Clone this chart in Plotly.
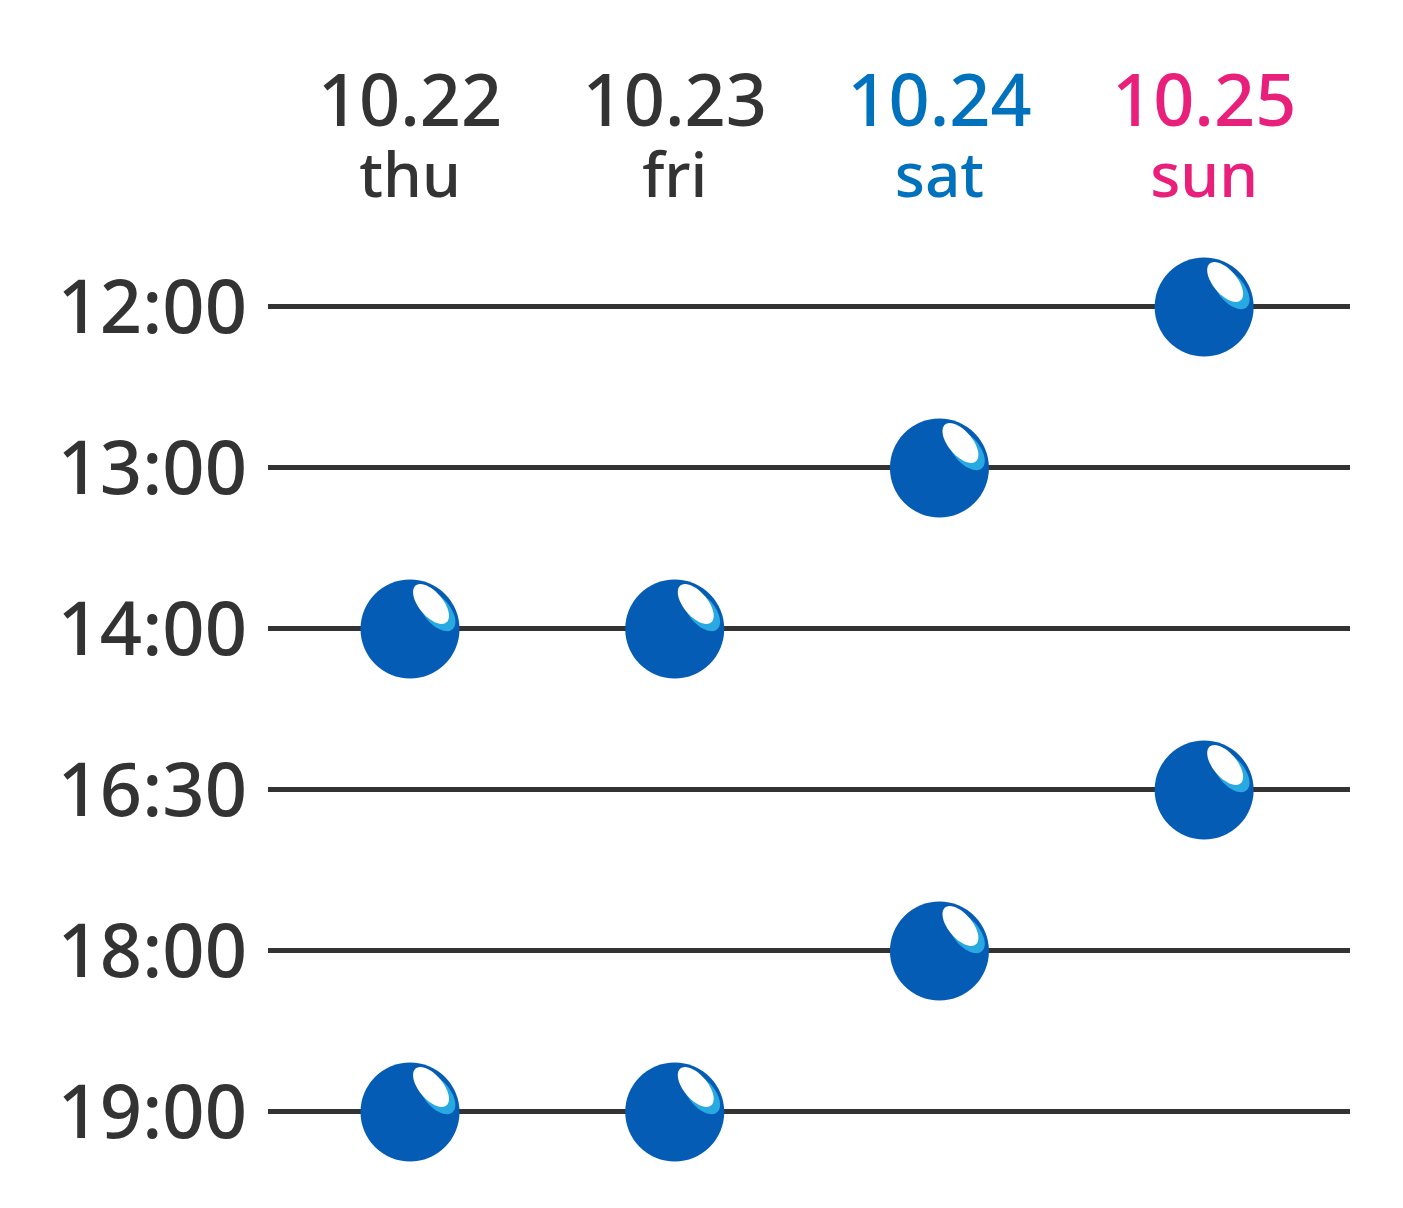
import math
import plotly.graph_objects as go

# ---- data ----
dates = ["10.22", "10.23", "10.24", "10.25"]
days = ["thu", "fri", "sat", "sun"]
times = ["12:00", "13:00", "14:00", "16:30", "18:00", "19:00"]
# sessions: (date, time)
session_dates = ["10.25", "10.24", "10.22", "10.23", "10.25", "10.24", "10.22", "10.23"]
session_times = ["12:00", "13:00", "14:00", "14:00", "16:30", "18:00", "19:00", "19:00"]

# ---- styles ----
INK = "#333333"
DAY_COLORS = {"thu": INK, "fri": INK, "sat": "#0071bc", "sun": "#e8207c"}
MARBLE = "#045cb4"
FONT = "Noto Sans"

xi = [dates.index(d) for d in session_dates]
yi = [times.index(t) for t in session_times]

fig = go.Figure()
fig.add_trace(go.Scatter(
    x=xi, y=yi, mode="markers",
    marker=dict(size=99, color=MARBLE, line=dict(width=0)),
    cliponaxis=False, hoverinfo="skip", showlegend=False,
))


def ellipse_path(cx, cy, a, b, ang_deg, n=48):
    t = math.radians(ang_deg)
    pts = []
    for k in range(n):
        u = 2 * math.pi * k / n
        ex, ey = a * math.cos(u), b * math.sin(u)
        px = cx + ex * math.cos(t) - ey * math.sin(t)
        py = cy + ex * math.sin(t) + ey * math.cos(t)
        pts.append(f"{px:.2f},{py:.2f}")
    return "M" + " L".join(pts) + " Z"


hl_blue = ellipse_path(27, 18, 24, 13, -50)
hl_white = ellipse_path(21, 25, 24, 12, -50)
for x, y in zip(xi, yi):
    for path, col in ((hl_blue, "#29a9e1"), (hl_white, "#ffffff")):
        fig.add_shape(type="path", path=path, xref="x", yref="y",
                      xsizemode="pixel", ysizemode="pixel",
                      xanchor=x, yanchor=y, fillcolor=col,
                      line=dict(width=0), layer="above")

ticktext = [
    f"<span style='color:{DAY_COLORS[dy]}'><span style='font-size:72px'>{dt}</span>"
    f"<br><span style='font-size:62px'>{dy}</span></span>"
    for dt, dy in zip(dates, days)
]

fig.update_layout(
    width=1403, height=1208,
    margin=dict(l=260, r=61, t=222, b=48),
    paper_bgcolor="white", plot_bgcolor="white",
    font=dict(family=FONT, color=INK),
    xaxis=dict(
        range=[-0.5365, 3.551], side="top",
        tickvals=list(range(len(dates))), ticktext=ticktext,
        tickfont=dict(size=55, family=FONT, weight=500),
        showgrid=False, zeroline=False, showline=False, ticks="",
        ticklabelstandoff=21,
    ),
    yaxis=dict(
        range=[5.348, -0.478],
        tickvals=list(range(len(times))), ticktext=times,
        tickfont=dict(size=74, family=FONT, color=INK, weight=500),
        showgrid=True, gridcolor=INK, gridwidth=5,
        zeroline=False, showline=False, ticks="",
        ticklabelstandoff=20,
    ),
)

fig.write_html("out.html")
